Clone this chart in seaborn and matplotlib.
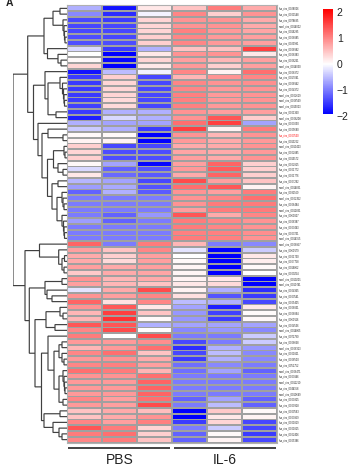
import numpy as np
import pandas as pd
import matplotlib
matplotlib.use('Agg')
import matplotlib.pyplot as plt
from matplotlib.colors import LinearSegmentedColormap
import seaborn as sns

row_labels = [
    'hsa_circ_0028026', 'hsa_circ_0001548', 'hsa_circ_0078695', 'novel_circ_0014002',
    'hsa_circ_0016285', 'hsa_circ_0008885', 'hsa_circ_0023981', 'hsa_circ_0006982',
    'hsa_circ_0008383', 'hsa_circ_0006261', 'novel_circ_0014030', 'hsa_circ_0008372',
    'hsa_circ_0017041', 'hsa_circ_0006942', 'hsa_circ_0004372', 'novel_circ_0002619',
    'novel_circ_0008569', 'novel_circ_0015023', 'hsa_circ_0001360', 'novel_circ_0008208',
    'hsa_circ_0003090', 'hsa_circ_0005680', 'hsa_circ_0003530', 'hsa_circ_0013222',
    'novel_circ_0010423', 'hsa_circ_0002885', 'hsa_circ_0019172', 'hsa_circ_0002915',
    'hsa_circ_0001772', 'hsa_circ_0001776', 'hsa_circ_0007292', 'novel_circ_0014831',
    'hsa_circ_0031569', 'novel_circ_0002352', 'hsa_circ_0006484', 'novel_circ_0012831',
    'hsa_circ_0060827', 'hsa_circ_0006387', 'hsa_circ_0003443', 'hsa_circ_0003731',
    'novel_circ_0014155', 'novel_circ_0006857', 'hsa_circ_0060179', 'hsa_circ_0001730',
    'hsa_circ_0007758', 'hsa_circ_0016862', 'hsa_circ_0009254', 'novel_circ_0010201',
    'novel_circ_0010741', 'hsa_circ_0004365', 'hsa_circ_0003541', 'hsa_circ_0005405',
    'hsa_circ_0006831', 'hsa_circ_0006894', 'hsa_circ_0060116', 'hsa_circ_0004536',
    'novel_circ_0014865', 'hsa_circ_0071790', 'hsa_circ_0006668', 'novel_circ_0006313',
    'hsa_circ_0001821', 'hsa_circ_0006500', 'hsa_circ_0051752', 'novel_circ_0006471',
    'hsa_circ_0003846', 'novel_circ_0011210', 'hsa_circ_0044158', 'novel_circ_0010649',
    'hsa_circ_0000825', 'hsa_circ_0000928', 'hsa_circ_0000563', 'hsa_circ_0003859',
    'hsa_circ_0001819', 'hsa_circ_0001815', 'hsa_circ_0002406', 'hsa_circ_0005386']
highlight_row = 'hsa_circ_0003530'
group_names = ['PBS', 'IL-6']
colorbar_ticks = [-2, -1, 0, 1, 2]

pbs_values = [
    [-0.6, -1.8, 0.2], [-0.9, -1.6, -0.1], [-1.4, -1.5, 0.35], [-1.4, -1.4, 0.35],
    [-1.4, -1.4, 0.35], [-1.35, -1.4, 0.4], [-1.35, -1.35, 0.4], [-0.3, -1.5, -0.6],
    [0, -2, 0.2], [0.05, -1.9, 0.35], [0.35, -2, 0.2], [-1.8, -0.5, -0.1],
    [-1.5, 0.4, -1.4], [-1.5, 0.35, -1.4], [-1.5, 0.35, -1.4], [-1.5, 0.35, -1.4],
    [-1.5, 0.3, -1.4], [-1.45, 0.3, -1.4], [-1.5, -0.6, -0.6], [-1.7, -0.3, -0.6],
    [-0.6, -0.7, -0.7], [-0.4, -0.6, -1.5], [0.05, 0.05, -2], [0.1, 0.1, -1.95],
    [0.4, -1.4, -1.4], [0.35, -1.35, -1.35], [0.4, -1.35, -1.35], [0.05, -0.7, -1.9],
    [-0.3, -1.2, -1.3], [0.2, -1.15, -1.25], [-0.55, -0.7, -1.4], [-0.75, -0.65, -1.3],
    [-1.2, -0.6, -1.25], [-1.0, -1.0, -1.0], [-1.0, -1.0, -1.0], [-1.0, -1.0, -1.0],
    [-1.0, -1.2, -0.8], [-0.75, -1.2, -1.0], [-1.0, -1.0, -1.0], [-1.0, -1.0, -1.0],
    [-1.0, -1.0, -1.0], [1.3, -1.0, 1.1], [0.8, 0.5, 1.0], [0.7, 0.4, 0.8],
    [0.7, 0.3, 0.8], [0.8, 0.7, 0.8], [0.45, 0.7, 0.75], [0.9, 0.6, 0.7],
    [0.8, 0.6, 0.5], [-0.2, 0.7, 1.5], [0.9, 0.8, 1.0], [1.3, 0.25, 1.0],
    [0.9, 1.4, 0.2], [0.6, 1.6, 0.5], [0.6, 1.7, 0.05], [1.4, 1.4, -0.6],
    [1.0, 1.5, 0.02], [1.1, 0.0, 1.5], [0.85, 0.85, 0.95], [0.6, 0.85, 1.2],
    [1.0, 1.2, 0.5], [0.85, 0.9, 0.7], [1.0, 1.05, 0.8], [1.2, 1.1, 0.6],
    [0.9, 0.9, 1.2], [0.85, 0.85, 1.3], [0.85, 0.85, 1.3], [0.85, 0.85, 1.3],
    [1.0, 0.8, 1.2], [0.85, 0.8, 1.5], [0.5, 0.7, 0.55], [0.5, 0.7, 0.9],
    [1.0, 0.8, 1.05], [1.4, 1.1, 0.35], [1.1, 1.2, 0.4], [1.0, 1.1, 0.5]]

il6_values = [
    [0.5, 1.1, 0.7], [1.0, 0.4, 0.9], [0.9, 0.9, 0.7], [0.9, 0.9, 0.7],
    [1.05, 0.85, 0.75], [1.0, 0.85, 0.8], [1.0, 0.85, 0.8], [0.5, 0.5, 1.6],
    [0.9, 0.9, 0.2], [0.8, 0.6, 0.8], [0.85, 0.4, 0.8], [1.0, 0.1, 1.2],
    [0.6, 0.9, 1.0], [1.0, 0.9, 0.95], [1.0, 0.85, 0.9], [1.05, 0.85, 0.9],
    [1.05, 0.85, 0.9], [1.05, 0.85, 0.9], [0.9, 0.8, 0.8], [0.9, 1.4, 0.4],
    [1.2, 1.6, -0.7], [1.6, 0.1, 1.1], [0.9, 0.6, 0.9], [0.85, 0.7, 0.85],
    [0.7, 0.7, 0.9], [0.75, 0.7, 0.85], [0.8, 0.7, 0.9], [0.8, 1.3, 0.4],
    [0.85, 1.35, 0.4], [0.7, 1.3, 0.4], [1.5, 0.8, 0.5], [1.2, 1.4, 0.1],
    [0.9, 0.8, 1.1], [0.9, 1.0, 1.2], [0.9, 1.1, 1.1], [0.8, 1.1, 1.1],
    [1.4, 0.7, 1.0], [1.1, 1.0, 0.9], [1.1, 1.0, 0.9], [1.05, 1.05, 0.95],
    [1.1, 1.05, 0.9], [0.6, -1.0, -0.9], [-0.2, -2, -0.4], [0.0, -2, 0.2],
    [0.05, -2, 0.15], [0.08, -2, 0.05], [0.08, -2, 0.0], [0.1, 0.2, -2],
    [0.2, 0.3, -2], [0.1, -0.6, -1.6], [0.25, -1.3, -1.5], [-0.5, -0.6, -1.4],
    [-0.7, -1.7, 0.2], [-0.8, -1.45, 0.03], [-0.8, -1.5, 0.05], [-0.7, -0.7, -0.7],
    [-0.9, -0.8, -0.9], [-1.0, -1.0, -0.4], [-1.4, -1.0, -0.4], [-1.6, -0.6, -0.8],
    [-1.4, -0.5, -0.9], [-1.5, -0.6, -0.9], [-1.1, -0.9, -1.0], [-1.1, -0.7, -1.2],
    [-1.0, -1.0, -1.0], [-1.0, -1.0, -1.0], [-1.0, -1.0, -1.0], [-1.0, -1.0, -1.0],
    [-1.2, -0.7, -1.2], [-1.0, -0.5, -1.2], [-2, 0.45, 0.05], [-1.95, 0.2, 0.1],
    [-1.5, 0.35, -1.4], [-1.0, -0.4, -1.4], [-1.2, 0.05, -1.5], [-1.2, 0.1, -1.4]]

# row tree: (merge height, upper branch, lower branch), a plain int is a row
rows_0_6 = (14, (7, 0, 1), (4, 2, (3, 3, (2.5, 4, (2, 5, 6)))))
rows_7_10 = (19.5, 7, (9, 8, (6, 9, 10)))
rows_12_19 = (19, (7, 12, (4.5, 13, (3.5, 14, (3, 15, (2.5, 16, 17))))), (11, 18, 19))
rows_21_23 = (19, 21, (4, 22, 23))
rows_24_29 = (13.5, (3, 24, (2, 25, 26)), (9, 27, (4, 28, 29)))
rows_30_40 = (15, (9, 30, 31), (10, (5, 32, (4, 33, (3, 34, 35))),
                                (5, 36, (3.5, 37, (3, 38, (2.5, 39, 40))))))
rows_41_46 = (27.5, 41, (8.3, 42, (5, (2.5, 43, 44), (3, 45, 46))))
rows_47_51 = (22, (5, 47, 48), (20, 49, (15, 50, 51)))
rows_52_56 = (21, (7, 52, (4, 53, 54)), (12, 55, 56))
rows_57_69 = (19, 57, (13, (8, (5, 58, 59), (5, 60, (3, 61, 62))),
                       (8, (4, 63, (3, 64, (2.5, 65, (2, 66, 67)))), (4, 68, 69))))
rows_70_75 = (23, (7, 70, 71), (14, 72, (8, 73, (5, 74, 75))))
row_tree = (54,
            (39.3, (23, rows_0_6, rows_7_10),
             (33.5, (22, 11, rows_12_19),
              (29, 20, (25, rows_21_23, (19.5, rows_24_29, rows_30_40))))),
            (42, rows_41_46,
             (37.7, rows_47_51,
              (32, rows_52_56, (25.5, rows_57_69, rows_70_75)))))


def draw_branch(ax, node):
    # returns the height and the row position of this node
    if isinstance(node, int):
        return 0, node + 0.5
    h, upper, lower = node
    h1, y1 = draw_branch(ax, upper)
    h2, y2 = draw_branch(ax, lower)
    ax.plot([h1, h, h, h2], [y1, y1, y2, y2], color='#404040', lw=0.85,
            solid_joinstyle='miter', solid_capstyle='butt', snap=False)
    return h, (y1 + y2) / 2


W, H = 355, 473


def px_axes(x0, y0, x1, y1):
    # axes from pixel corners, y counted from the top
    return fig.add_axes([x0 / W, 1 - y1 / H, (x1 - x0) / W, (y1 - y0) / H])


sns.set_theme(style='white')
plt.rcParams['font.family'] = ['Liberation Sans', 'DejaVu Sans']

sample_cols = ['PBS1', 'PBS2', 'PBS3', 'IL61', 'IL62', 'IL63']
data = pd.DataFrame(np.hstack([pbs_values, il6_values]), index=row_labels, columns=sample_cols)

vmin, vmax = -1.95, 2.13
cmap = LinearSegmentedColormap.from_list(
    'bwr_scale', [(0, 'blue'), (-vmin / (vmax - vmin), 'white'), (1, 'red')], N=256)

fig = plt.figure(figsize=(W / 100, H / 100), dpi=100)
ax_heat = px_axes(67, 5.5, 277, 442.5)
ax_tree = px_axes(13, 5.5, 67, 442.5)
ax_cbar = px_axes(322.7, 9, 332.7, 115.7)
ax_group = px_axes(67, 444, 277, 470)

sns.heatmap(data, ax=ax_heat, cbar_ax=ax_cbar, cmap=cmap, vmin=vmin, vmax=vmax,
            linewidths=0.6, linecolor='#a0a0a0', xticklabels=False, yticklabels=True)
ax_heat.collections[0].set_snap(False)
ax_heat.yaxis.tick_right()
ax_heat.tick_params(axis='y', length=0, pad=1.2, labelsize=1.85, labelrotation=0)
for lab in ax_heat.get_yticklabels():
    lab.set_color('red' if lab.get_text() == highlight_row else '#222222')
for side in ['top', 'bottom', 'left', 'right']:
    ax_heat.spines[side].set_visible(True)
    ax_heat.spines[side].set_color('#b0b0b0')
    ax_heat.spines[side].set_linewidth(0.8)

cbar = ax_heat.collections[0].colorbar
cbar.outline.set_visible(False)
cbar.set_ticks(colorbar_ticks, labels=[str(t).replace('-', '\u2212') for t in colorbar_ticks])
ax_cbar.tick_params(axis='y', length=0, pad=3, labelsize=7.5, labelcolor='#222222')

draw_branch(ax_tree, row_tree)
ax_tree.set_xlim(54, 0)
ax_tree.set_ylim(len(row_labels), 0)
ax_tree.axis('off')

# group bars under the heat map
ax_group.set_xlim(0, 6)
ax_group.set_ylim(1, 0)
ax_group.axis('off')
ax_group.plot([0.02, 2.95], [0.14, 0.14], color='#111111', lw=1.1, solid_capstyle='butt')
ax_group.plot([3.05, 5.97], [0.14, 0.14], color='#111111', lw=1.1, solid_capstyle='butt')
ax_group.text(1.5, 0.62, group_names[0], ha='center', va='center', fontsize=10, color='#222222')
ax_group.text(4.5, 0.62, group_names[1], ha='center', va='center', fontsize=10, color='#222222')

fig.text(9 / W, 1 - 6.5 / H, 'A', fontsize=7.5, fontweight='bold', ha='center', va='baseline', color='#222222')

plt.savefig('out.png', dpi=100)
